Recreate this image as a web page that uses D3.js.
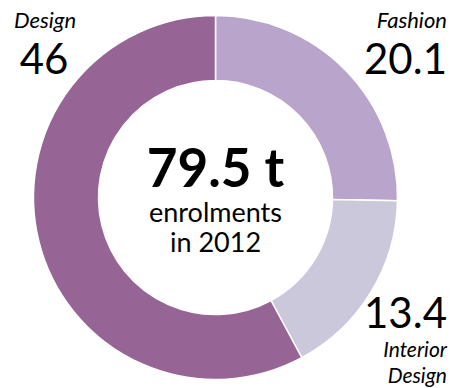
<!DOCTYPE html>
<html>
<head>
<meta charset="utf-8">
<script src="https://cdnjs.cloudflare.com/ajax/libs/d3/7.8.5/d3.min.js"></script>
<style>
  body { margin: 0; background: #fff; }
  text { font-family: Lato, "Open Sans", sans-serif; fill: #000; }
</style>
</head>
<body>
<div id="chart"></div>
<script>
var w = 453;
var h = 388;

// data
var categories = ["Fashion", "Interior Design", "Design"];
var values = [20.1, 13.4, 46];
var colors = ["#b9a5cb", "#cbc8dc", "#976496"];
var total = "79.5 t";
var subtitle = ["enrolments", "in 2012"];

var svg = d3.select("#chart")
    .append("svg")
    .attr("width", w)
    .attr("height", h);

var cx = 215.5, cy = 197.5;
var outerR = 182, innerR = 117;

var pie = d3.pie()
    .sort(null)
    .value(function (d) { return d; });

var arc = d3.arc()
    .innerRadius(innerR)
    .outerRadius(outerR);

var g = svg.append("g")
    .attr("transform", "translate(" + cx + "," + cy + ")");

g.selectAll("path")
    .data(pie(values))
    .enter()
    .append("path")
    .attr("d", arc)
    .attr("fill", function (d, i) { return colors[i]; })
    .attr("stroke", "#fff")
    .attr("stroke-width", 1.5);

// centre label
svg.append("text")
    .attr("x", cx)
    .attr("y", 187)
    .attr("text-anchor", "middle")
    .attr("font-size", "53px")
    .attr("font-weight", "bold")
    .text(total);

svg.selectAll("text.sub")
    .data(subtitle)
    .enter()
    .append("text")
    .attr("class", "sub")
    .attr("x", cx)
    .attr("y", function (d, i) { return 222 + i * 30; })
    .attr("text-anchor", "middle")
    .attr("font-size", "27px")
    .text(function (d) { return d; });

// slice labels
var labels = [
    { name: ["Design"], value: values[2], x: 45, anchor: "middle", ny: 28, vy: 74 },
    { name: ["Fashion"], value: values[0], x: 447, anchor: "end", ny: 28, vy: 74 },
    { name: ["Interior", "Design"], value: values[1], x: 447, anchor: "end", ny: 357, vy: 328 }
];

labels.forEach(function (l) {
    l.name.forEach(function (n, i) {
        svg.append("text")
            .attr("x", l.x)
            .attr("y", l.ny + i * 26)
            .attr("text-anchor", l.anchor)
            .attr("font-size", l.name.length > 1 ? "21px" : "22px")
            .attr("font-style", "italic")
            .text(n);
    });
    svg.append("text")
        .attr("x", l.anchor == "middle" ? 44 : l.x)
        .attr("y", l.vy)
        .attr("text-anchor", l.anchor)
        .attr("font-size", "42px")
        .text(l.value);
});
</script>
</body>
</html>
